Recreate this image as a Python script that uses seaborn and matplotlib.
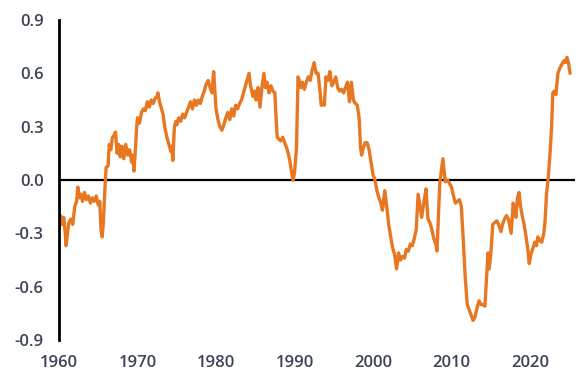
import matplotlib
matplotlib.use("Agg")
import matplotlib.pyplot as plt
import seaborn as sns
import pandas as pd

# values (year, value)
years = [
    1960.0, 1960.2, 1960.4, 1960.6, 1960.8, 1960.9, 1961.0, 1961.25, 1961.5, 1961.75,
    1962.0, 1962.25, 1962.4, 1962.6, 1962.8, 1963.0, 1963.25, 1963.5, 1963.75,
    1964.0, 1964.25, 1964.5, 1964.75, 1965.0, 1965.2, 1965.35, 1965.5, 1965.65, 1965.85,
    1966.0, 1966.25, 1966.4, 1966.6, 1966.8, 1967.0, 1967.2, 1967.4, 1967.6, 1967.8,
    1968.0, 1968.25, 1968.5, 1968.75, 1969.0, 1969.25, 1969.4, 1969.55, 1969.7, 1969.9,
    1970.0, 1970.25, 1970.5, 1970.75, 1971.0, 1971.25, 1971.5, 1971.75,
    1972.0, 1972.25, 1972.5, 1972.6, 1972.8, 1973.0, 1973.25, 1973.5, 1973.75,
    1974.0, 1974.25, 1974.4, 1974.5, 1974.7, 1974.9, 1975.0, 1975.25, 1975.5, 1975.75,
    1976.0, 1976.25, 1976.5, 1976.75, 1977.0, 1977.25, 1977.5, 1977.75,
    1978.0, 1978.25, 1978.5, 1978.75, 1979.0, 1979.25, 1979.5, 1979.7, 1979.85,
    1980.0, 1980.25, 1980.5, 1980.75, 1981.0, 1981.25, 1981.5, 1981.75,
    1982.0, 1982.25, 1982.5, 1982.75, 1983.0, 1983.25, 1983.5, 1983.75,
    1984.0, 1984.2, 1984.4, 1984.7, 1984.9, 1985.1, 1985.35, 1985.6, 1985.85,
    1986.1, 1986.3, 1986.5, 1986.75, 1987.0, 1987.25, 1987.5, 1987.65, 1987.8,
    1988.0, 1988.25, 1988.5, 1988.75, 1989.0, 1989.2, 1989.4, 1989.6, 1989.8,
    1990.0, 1990.25, 1990.45, 1990.6, 1990.8, 1991.0, 1991.25, 1991.5, 1991.75,
    1992.0, 1992.25, 1992.5, 1992.75, 1993.0, 1993.25, 1993.4, 1993.6, 1993.8,
    1994.0, 1994.25, 1994.5, 1994.75, 1995.0, 1995.25, 1995.5, 1995.75,
    1996.0, 1996.25, 1996.5, 1996.75, 1997.0, 1997.25, 1997.5, 1997.75,
    1998.0, 1998.25, 1998.4, 1998.55, 1998.75, 1999.0, 1999.25, 1999.5, 1999.75, 1999.9,
    2000.0, 2000.25, 2000.5, 2000.75, 2001.0, 2001.2, 2001.5, 2001.75,
    2002.0, 2002.25, 2002.5, 2002.75, 2003.0, 2003.25, 2003.5, 2003.75,
    2004.0, 2004.25, 2004.5, 2004.75, 2005.0, 2005.25, 2005.5, 2005.75,
    2006.0, 2006.2, 2006.5, 2006.75, 2007.0, 2007.25, 2007.5, 2007.75,
    2008.0, 2008.15, 2008.5, 2008.9, 2009.2, 2009.5, 2009.75,
    2010.0, 2010.25, 2010.5, 2010.75, 2011.0, 2011.25, 2011.5, 2011.75,
    2012.0, 2012.25, 2012.5, 2012.75, 2013.0, 2013.25, 2013.5, 2013.75,
    2014.0, 2014.25, 2014.5, 2014.65, 2014.8, 2015.0, 2015.25, 2015.5, 2015.75,
    2016.0, 2016.3, 2016.5, 2016.75, 2017.0, 2017.25, 2017.6, 2017.85,
    2018.0, 2018.2, 2018.4, 2018.6, 2018.8, 2019.0, 2019.25, 2019.5, 2019.75, 2019.9,
    2020.1, 2020.4, 2020.6, 2020.8, 2021.0, 2021.25, 2021.5, 2021.75, 2021.9,
    2022.1, 2022.3, 2022.55, 2022.75, 2022.9, 2023.1, 2023.3, 2023.55, 2023.8,
    2024.05, 2024.3, 2024.5, 2024.7, 2024.9, 2025.1,
]
values = [
    -0.28, -0.20, -0.25, -0.21, -0.30, -0.37, -0.33, -0.24, -0.22, -0.25,
    -0.15, -0.12, -0.04, -0.10, -0.08, -0.12, -0.07, -0.11, -0.09,
    -0.13, -0.10, -0.12, -0.09, -0.14, -0.12, -0.28, -0.32, -0.24, -0.05,
    0.07, 0.08, 0.20, 0.17, 0.24, 0.25, 0.27, 0.15, 0.20, 0.13,
    0.19, 0.12, 0.20, 0.14, 0.17, 0.10, 0.14, 0.05, 0.15, 0.30,
    0.35, 0.32, 0.38, 0.40, 0.39, 0.44, 0.41, 0.45,
    0.43, 0.46, 0.47, 0.49, 0.44, 0.41, 0.37, 0.29, 0.24,
    0.20, 0.16, 0.19, 0.11, 0.30, 0.33, 0.31, 0.35, 0.33, 0.37,
    0.35, 0.38, 0.41, 0.44, 0.40, 0.45, 0.42, 0.45,
    0.43, 0.47, 0.50, 0.54, 0.56, 0.52, 0.49, 0.61, 0.50,
    0.40, 0.34, 0.30, 0.28, 0.31, 0.35, 0.38, 0.34,
    0.40, 0.36, 0.42, 0.40, 0.43, 0.45, 0.49, 0.53,
    0.57, 0.60, 0.53, 0.47, 0.50, 0.45, 0.52, 0.41, 0.52,
    0.60, 0.52, 0.55, 0.49, 0.53, 0.50, 0.49, 0.35, 0.24,
    0.23, 0.22, 0.24, 0.21, 0.18, 0.15, 0.11, 0.05, 0.00,
    0.04, 0.18, 0.58, 0.56, 0.52, 0.55, 0.51, 0.55, 0.58,
    0.56, 0.62, 0.66, 0.60, 0.60, 0.50, 0.42, 0.43, 0.42,
    0.58, 0.56, 0.61, 0.53, 0.55, 0.58, 0.52, 0.50,
    0.51, 0.49, 0.52, 0.55, 0.44, 0.55, 0.45, 0.43,
    0.42, 0.34, 0.19, 0.14, 0.18, 0.21, 0.21, 0.17, 0.10, 0.06,
    0.03, 0.00, -0.06, -0.10, -0.13, -0.17, -0.06, -0.15,
    -0.25, -0.32, -0.38, -0.42, -0.50, -0.41, -0.45, -0.43,
    -0.44, -0.39, -0.40, -0.36, -0.37, -0.33, -0.28, -0.08,
    -0.15, -0.21, -0.12, -0.05, -0.22, -0.24, -0.28, -0.33,
    -0.36, -0.40, -0.02, 0.12, -0.01, 0.00, -0.02,
    -0.04, -0.09, -0.13, -0.12, -0.11, -0.15, -0.34, -0.55,
    -0.70, -0.73, -0.76, -0.79, -0.77, -0.72, -0.68, -0.70,
    -0.70, -0.71, -0.52, -0.41, -0.50, -0.42, -0.25, -0.24, -0.23,
    -0.25, -0.29, -0.25, -0.22, -0.20, -0.22, -0.30, -0.13,
    -0.16, -0.21, -0.10, -0.07, -0.15, -0.20, -0.25, -0.32, -0.40, -0.47,
    -0.42, -0.38, -0.35, -0.37, -0.32, -0.34, -0.35, -0.30, -0.24,
    -0.08, 0.00, 0.15, 0.30, 0.49, 0.50, 0.48, 0.60, 0.63,
    0.65, 0.67, 0.66, 0.69, 0.66, 0.60,
]
x_ticks = [1960, 1970, 1980, 1990, 2000, 2010, 2020]
y_ticks = [-0.9, -0.6, -0.3, 0.0, 0.3, 0.6, 0.9]

df = pd.DataFrame({'year': years, 'value': values})

sns.set_style('white')
plt.rcParams['font.family'] = ['Open Sans', 'DejaVu Sans']

fig = plt.figure(figsize=(5.86, 3.82), dpi=100)
ax = fig.add_axes([59 / 586, 1 - 340 / 382, (575 - 59) / 586, 320 / 382])

ax.axhline(0, color='black', lw=1.6, zorder=1)
sns.lineplot(data=df, x='year', y='value', ax=ax, color='#E87722', lw=2.4, zorder=2)

ax.set_xlim(1960, 2025.73)
ax.set_ylim(-0.9, 0.9)
ax.set_xticks(x_ticks)
ax.set_yticks(y_ticks)
ax.set_yticklabels([f'{v:.1f}' for v in y_ticks])
ax.set_xlabel('')
ax.set_ylabel('')

for side in ['top', 'right', 'bottom']:
    ax.spines[side].set_visible(False)
ax.spines['left'].set_color('black')
ax.spines['left'].set_linewidth(2)

ax.tick_params(axis='both', length=0, labelsize=12, labelcolor='#3C4455')
ax.tick_params(axis='y', pad=11)
ax.tick_params(axis='x', pad=11)
for lab in ax.get_xticklabels() + ax.get_yticklabels():
    lab.set_fontweight('semibold')

fig.savefig('out.png', dpi=100)
